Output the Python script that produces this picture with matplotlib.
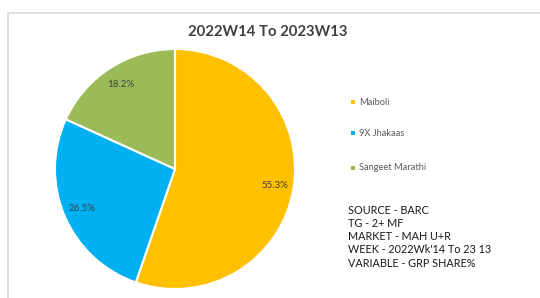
import matplotlib
matplotlib.use("Agg")
import matplotlib.pyplot as plt
from matplotlib.patches import Rectangle

title = "2022W14 To 2023W13"
categories = ["Maiboli", "9X Jhakaas", "Sangeet Marathi"]
shares = [55.3, 26.5, 18.2]
colors = ["#FFC000", "#00B0F0", "#9BBB59"]
notes = ["SOURCE - BARC", "TG - 2+ MF", "MARKET - MAH U+R",
         "WEEK - 2022Wk'14 To 23 13", "VARIABLE - GRP SHARE%"]

plt.rcParams['font.family'] = ['Lato', 'DejaVu Sans']

W, H = 540, 298
fig = plt.figure(figsize=(W / 100, H / 100), dpi=100)
fig.patch.set_facecolor("white")

# outer frame
fig.patches.append(Rectangle((8 / W, -0.05), 1.1, (H - 13) / H + 0.05,
                             transform=fig.transFigure, fill=False,
                             edgecolor="#D9D9D9", linewidth=1.2))

cx, cy, r = 175, 169, 120
ax = fig.add_axes([(cx - r) / W, (H - cy - r) / H, 2 * r / W, 2 * r / H])
wedges, texts, autotexts = ax.pie(
    shares, colors=colors, startangle=90, counterclock=False,
    autopct=lambda p: f"{p:.1f}%", pctdistance=0.84,
    wedgeprops=dict(edgecolor="white", linewidth=1.5),
    textprops=dict(fontsize=7, color="#404040"))
ax.set_xlim(-1, 1)
ax.set_ylim(-1, 1)
ax.set_aspect("equal")
ax.axis("off")

fig.text(268 / W, 1 - 32 / H, title, ha="center", va="center",
         fontsize=10.7, fontweight="bold", color="#404040")

leg_y = [102, 133, 168]
for name, col, y in zip(categories, colors, leg_y):
    fig.patches.append(Rectangle((351 / W, 1 - (y + 2) / H), 4 / W, 4 / H,
                                 transform=fig.transFigure, facecolor=col,
                                 edgecolor="none"))
    fig.text(359 / W, 1 - y / H, name, ha="left", va="center",
             fontsize=6.7, color="#595959")

for i, line in enumerate(notes):
    fig.text(348 / W, 1 - (210 + i * 13.3) / H, line, ha="left", va="center",
             fontsize=7.8, color="#1a1a1a")

fig.savefig("out.png", dpi=100, facecolor="white")
